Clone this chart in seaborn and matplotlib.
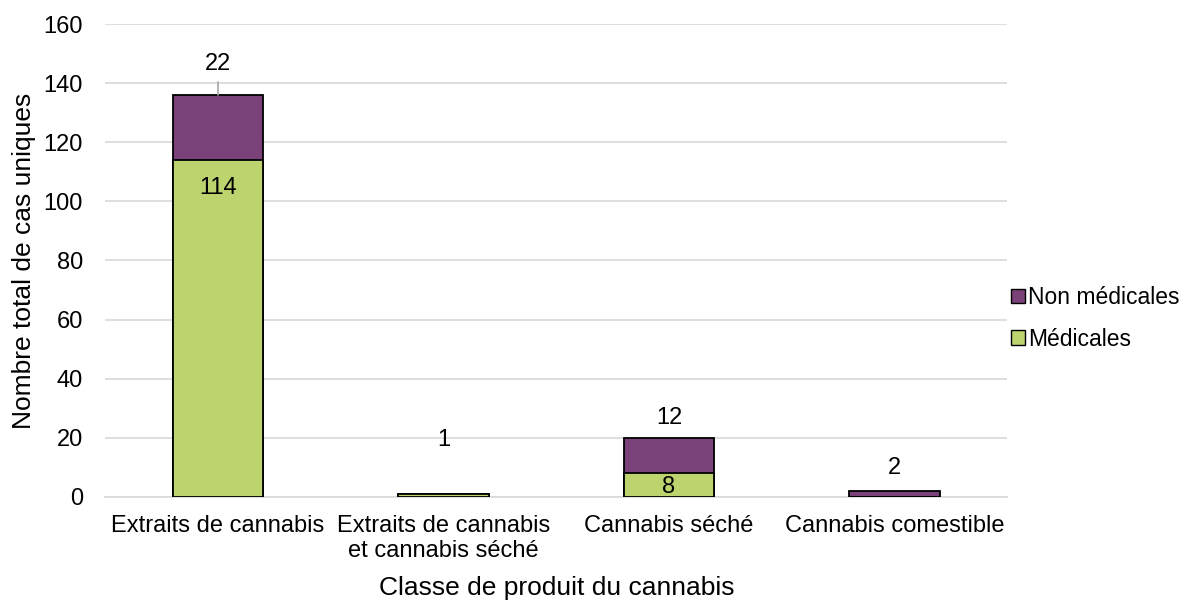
import matplotlib
matplotlib.use("Agg")
import matplotlib.pyplot as plt
import seaborn as sns
import pandas as pd
from matplotlib.patches import Patch

categories = ["Extraits de cannabis", "Extraits de cannabis\net cannabis séché",
              "Cannabis séché", "Cannabis comestible"]
medicales = [114, 1, 8, 0]
non_medicales = [22, 0, 12, 2]

# label positions (data units) for the value annotations
non_med_label_y = [146.5, 19.3, 26.7, 9.8]
med_label_y = [104.5, None, 3.4, None]

purple = "#7B4279"
green = "#BDD46E"
grid_col = "#D9D9D9"

sns.set_theme(style="white")
plt.rcParams["font.family"] = ["Liberation Sans", "DejaVu Sans"]
plt.rcParams["text.color"] = "black"
plt.rcParams["axes.labelcolor"] = "black"

totals = [m + n for m, n in zip(medicales, non_medicales)]
df = pd.DataFrame({"cat": categories, "med": medicales, "non": non_medicales, "tot": totals})

fig = plt.figure(figsize=(11.95, 6.03), dpi=100)
ax = fig.add_axes([0.088, 0.176, 0.755, 0.784])

sns.barplot(data=df, x="cat", y="tot", color=purple, saturation=1, width=0.4,
            edgecolor="black", linewidth=1.3, ax=ax, zorder=3)
sns.barplot(data=df, x="cat", y="med", color=green, saturation=1, width=0.4,
            edgecolor="black", linewidth=1.3, ax=ax, zorder=4)

ax.set_ylim(0, 160)
ax.set_xlim(-0.5, 3.5)
ax.set_yticks(range(0, 161, 20))
ax.yaxis.grid(True, color=grid_col, linewidth=1.2, zorder=0)
ax.set_axisbelow(True)
for s in ["top", "right", "left"]:
    ax.spines[s].set_visible(False)
ax.spines["bottom"].set_color(grid_col)
ax.spines["bottom"].set_linewidth(1.2)
ax.tick_params(axis="both", length=0, labelsize=17, colors="black")
ax.tick_params(axis="y", pad=16)
ax.tick_params(axis="x", pad=13)

ax.set_xlabel("Classe de produit du cannabis", fontsize=19, labelpad=10)
ax.set_ylabel("Nombre total de cas uniques", fontsize=19, labelpad=5)

# value labels
for i, (n, m) in enumerate(zip(non_medicales, medicales)):
    top_val = n if n > 0 else m
    ax.text(i, non_med_label_y[i], str(top_val), ha="center", va="center", fontsize=17, zorder=5)
    if med_label_y[i] is not None:
        ax.text(i, med_label_y[i], str(m), ha="center", va="center", fontsize=17, zorder=5)

# leader line for the first label
ax.plot([0, 0], [totals[0], 140.5], color="#A6A6A6", linewidth=1.2, zorder=5)

handles = [Patch(facecolor=purple, edgecolor="black", label="Non médicales"),
           Patch(facecolor=green, edgecolor="black", label="Médicales")]
fig.legend(handles=handles, loc="center left", bbox_to_anchor=(0.846, 0.472),
           frameon=False, fontsize=16.5, handlelength=0.6, handleheight=0.6,
           handletextpad=0.15, labelspacing=0.8, borderpad=0, borderaxespad=0)

fig.savefig("out.png", dpi=100)
